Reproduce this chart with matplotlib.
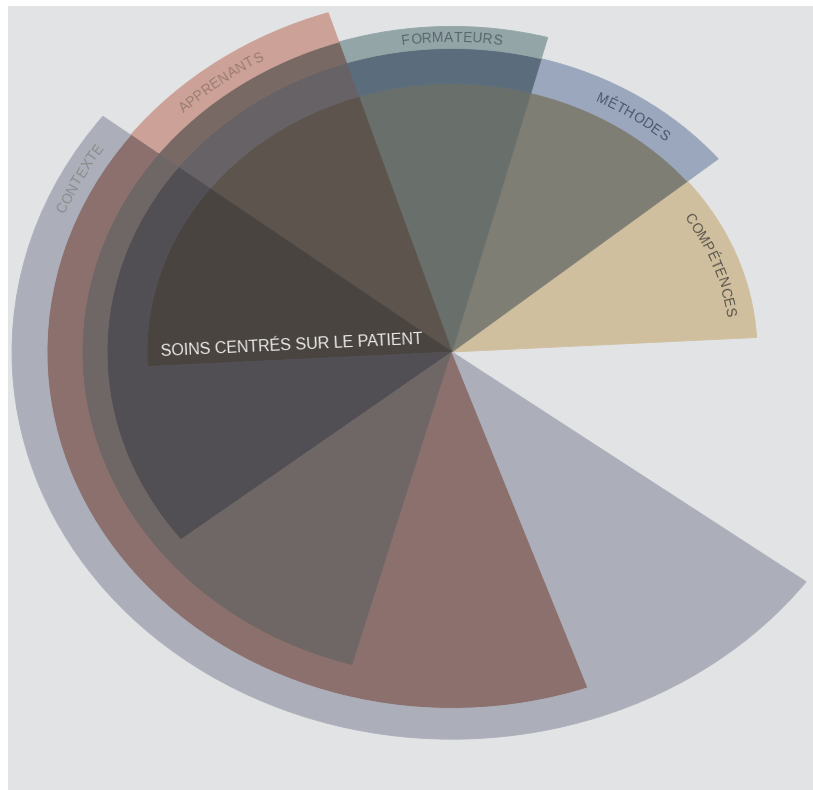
import numpy as np
import matplotlib
matplotlib.use("Agg")
import matplotlib.pyplot as plt
from matplotlib import colors
from matplotlib.patches import Wedge
from matplotlib.font_manager import FontProperties
from matplotlib.textpath import TextToPath

# five half-discs, each one turned ~36 degrees from the previous one
labels = ["CONTEXTE", "APPRENANTS", "FORMATEURS", "MÉTHODES", "COMPÉTENCES"]
start_angles = [142.5, 107.8, 75.0, 39.5, 3.1]
end_angles = [323.6, 289.6, 254.4, 218.2, 183.1]
radii = [440, 405, 370, 345, 305]
layer_colors = ["#acafba", "#cca197", "#94a5a8", "#9aa7bc", "#cfbf9e"]
label_colors = ["#8a8b89", "#9a7c72", "#56656a", "#4a556a", "#58534b"]
label_angles = [152, 127, 90, 56, 21]
label_radii = [422, 386, 357, 324, 281]
center_label = "SOINS CENTRÉS SUR LE PATIENT"

bg_color = "#e2e3e5"
squash = 0.88  # the photo flattens the circle vertically
cx, cy = 452, 352  # centre in picture pixels
W, H = 813, 790

fig = plt.figure(figsize=(W / 100, H / 100), dpi=100, facecolor="white")
ax = fig.add_axes([8 / W, 0, (W - 8) / W, (H - 6) / H])
ax.set_xlim(8 - cx, W - cx)
ax.set_ylim((cy - H) / squash, (cy - 6) / squash)
ax.axis("off")
ax.add_patch(plt.Rectangle((0, 0), 1, 1, transform=ax.transAxes, color=bg_color, zorder=0))

# multiply blend of the layers, drawn region by region
bg = np.array(colors.to_rgb(bg_color))
factors = [np.array(colors.to_rgb(c)) / bg for c in layer_colors]
breaks = sorted(set(a % 360 for a in start_angles + end_angles))
rings = sorted(set([0] + radii))


def covers(i, ang):
    return (ang - start_angles[i]) % 360 <= (end_angles[i] - start_angles[i]) % 360


def region_colour(on):
    col = bg * np.prod([factors[i] for i in on], axis=0)
    # printed overlaps: two layers a bit darker, deep stacks flatter and greyer
    if len(on) == 2:
        col = col * 0.9
    elif len(on) > 2:
        col = col + 0.045
        col = col * 0.75 + col.mean() * 0.25
    return np.clip(col, 0, 1)


for k in range(len(breaks)):
    a0 = breaks[k]
    a1 = breaks[(k + 1) % len(breaks)] + (360 if k == len(breaks) - 1 else 0)
    mid = ((a0 + a1) / 2) % 360
    for j in range(len(rings) - 1):
        r_in, r_out = rings[j], rings[j + 1]
        on = [i for i in range(len(labels)) if radii[i] >= r_out and covers(i, mid)]
        if not on:
            continue
        col = region_colour(on)
        ax.add_patch(Wedge((0, 0), r_out, a0, a1, width=r_out - r_in,
                           facecolor=col, edgecolor=col, lw=0.6, zorder=2))

# curved labels, letter by letter
fam = ["Liberation Sans", "DejaVu Sans"]
fp = FontProperties(family=fam, size=10)
t2p = TextToPath()
for name, ang, r, tc in zip(labels, label_angles, label_radii, label_colors):
    widths = [t2p.get_text_width_height_descent(ch, fp, ismath=False)[0] * 100 / 72 + 0.4
              for ch in name]
    total = sum(widths)
    th = np.radians(ang)
    scale = r * np.sqrt(np.sin(th) ** 2 + (squash * np.cos(th)) ** 2)
    pos = -total / 2
    for ch, w in zip(name, widths):
        s = pos + w / 2
        t = th - s / scale
        rot = np.degrees(np.arctan2(-squash * np.cos(t), np.sin(t)))
        ax.text(r * np.cos(t), r * np.sin(t), ch, fontproperties=fp, color=tc,
                rotation=rot, rotation_mode="anchor", ha="center", va="center", zorder=5)
        pos += w

ax.text(-160, 8, center_label, family=fam, fontsize=11.5, color="#ecebea",
        rotation=2.7, rotation_mode="anchor", ha="center", va="center", zorder=5)

fig.savefig("out.png", dpi=100, facecolor="white")
